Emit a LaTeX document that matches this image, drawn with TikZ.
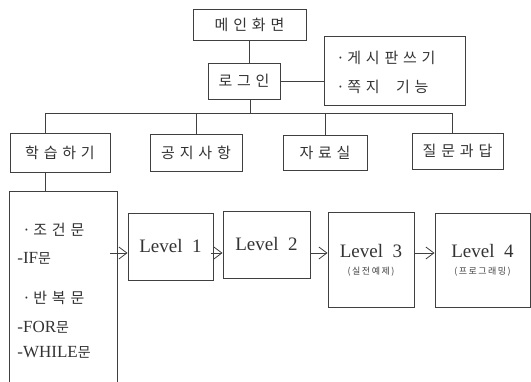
\documentclass[tikz,border=0pt]{standalone}
\usepackage{fontspec}
\setmainfont{Liberation Serif}
\newfontfamily\kr[LetterSpace=32]{Noto Sans CJK KR}
\newfontfamily\krs[LetterSpace=10]{Noto Sans CJK KR}
\newfontfamily\krn{Noto Sans CJK KR}
\usetikzlibrary{arrows.meta}
\begin{document}
\begin{tikzpicture}[x=1pt,y=-1pt,
  line width=0.8pt, draw=black!75,
  box/.style={draw=black!75, line width=0.9pt, inner sep=0pt, align=center},
  ktext/.style={font=\kr\fontsize{15}{17}\selectfont, text=black!80},
  lvl/.style={font=\fontsize{19}{21}\selectfont, text=black!80},
  sm/.style={font=\krs\fontsize{9}{11}\selectfont, text=black!75},
  item/.style={anchor=west, inner sep=0pt, text=black!80},
  latin/.style={font=\fontsize{17}{19}\selectfont},
  arr/.style={-{Straight Barb[length=8pt,width=12pt,line width=0.8pt]}, line width=0.8pt, draw=black!75}]
\useasboundingbox (0,0) rectangle (531,382);
% top
\node[box,ktext,minimum width=113pt,minimum height=31pt] (main) at (249.5,24.5) {메인화면};
\node[box,ktext,minimum width=72pt,minimum height=36pt] (login) at (244,81) {로그인};
\node[box,minimum width=141pt,minimum height=69pt] (side) at (394.5,70.5) {};
\node[item,ktext] (s1) at (336,58) {·\,게시판쓰기};
\node[item,ktext] (s2) at (336,87) {·\,쪽지\ \ 기능};
% second level
\node[box,ktext,minimum width=100pt,minimum height=39pt] (study) at (60,152.5) {학습하기};
\node[box,ktext,minimum width=92pt,minimum height=37pt] (notice) at (196,152.5) {공지사항};
\node[box,ktext,minimum width=84pt,minimum height=35pt] (data) at (325,152.5) {자료실};
\node[box,ktext,minimum width=91pt,minimum height=36pt] (qa) at (457.5,151) {질문과답};
% content box (open at bottom)
\node[inner sep=0pt,minimum width=107pt,minimum height=192pt] (content) at (63.5,288) {};
\draw[line width=0.9pt] (content.south west) |- (content.north east) -- (content.south east);
\node[item,ktext] (c1) at (22,230) {·\,조건문};
\node[item,latin] (c2) at (17,258) {-IF{\krn\fontsize{14}{16}\selectfont 문}};
\node[item,ktext] (c3) at (22,298) {·\,반복문};
\node[item,latin] (c4) at (17,327) {-FOR{\krn\fontsize{14}{16}\selectfont 문}};
\node[item,latin] (c5) at (17,352) {-WHILE{\krn\fontsize{14}{16}\selectfont 문}};
% levels
\node[box,lvl,minimum width=85pt,minimum height=67pt] (l1) at (170.5,246.5) {Level\ \ 1};
\node[box,lvl,minimum width=87pt,minimum height=67pt] (l2) at (266.5,244.5) {Level\ \ 2};
\node[box,minimum width=86pt,minimum height=95pt] (l3) at (371,259.5) {};
\node[lvl] (l3t) at (371,251) {Level\ \ 3};
\node[sm] (l3s) at (371,272) {(\,실\,전\,예\,제\,)};
\node[box,minimum width=95pt,minimum height=94pt] (l4) at (482.5,260) {};
\node[lvl] (l4t) at (482.5,251) {Level\ \ 4};
\node[sm] (l4s) at (482.5,272) {(\,프\,로\,그\,래\,밍\,)};
% connectors
\coordinate (bus) at (0,113);
\coordinate (row) at (0,253);
\draw (main.south) -- (main.south |- login.north);
\draw (login.east) -- (login.east -| side.west);
\draw ([xshift=6pt]login.south) -- ([xshift=6pt]login.south |- bus);
\draw ([xshift=-15pt]study.north |- bus) -- ([xshift=-5pt]qa.north |- bus);
\draw ([xshift=-15pt]study.north |- bus) -- ([xshift=-15pt]study.north);
\draw (notice.north |- bus) -- (notice.north);
\draw (data.north |- bus) -- (data.north);
\draw ([xshift=-5pt]qa.north |- bus) -- ([xshift=-5pt]qa.north);
\draw ([xshift=-15pt]study.south) -- ([xshift=-15pt]study.south |- content.north);
\draw[arr] ([xshift=-7pt]content.east |- row) -- (l1.west |- row);
\draw[arr] ([xshift=-2pt]l1.east |- row) -- (l2.west |- row);
\draw[arr] (l2.east |- row) -- (l3.west |- row);
\draw[arr] (l3.east |- row) -- (l4.west |- row);
\end{tikzpicture}
\end{document}
